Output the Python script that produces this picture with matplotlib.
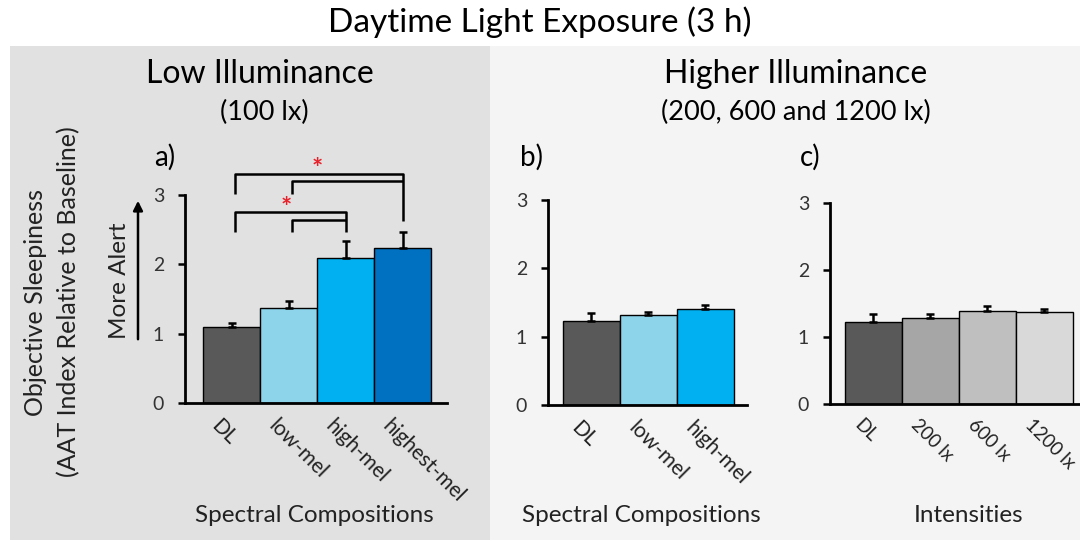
import matplotlib
matplotlib.use('Agg')
import matplotlib.pyplot as plt
import matplotlib.transforms as mtransforms
from matplotlib.patches import Rectangle

plt.rcParams['font.family'] = ['Lato', 'DejaVu Sans']

# panel a: low illuminance (100 lx)
labels_a = ['DL', 'low-mel', 'high-mel', 'highest-mel']
means_a = [1.10, 1.375, 2.09, 2.23]
errs_a = [0.05, 0.095, 0.25, 0.23]
colors_a = ['#595959', '#8DD3EA', '#00B0F0', '#0070C0']

# panel b: higher illuminance, spectral compositions
labels_b = ['DL', 'low-mel', 'high-mel']
means_b = [1.23, 1.31, 1.40]
errs_b = [0.11, 0.05, 0.06]
colors_b = ['#595959', '#8DD3EA', '#00B0F0']

# panel c: intensities
labels_c = ['DL', '200 lx', '600 lx', '1200 lx']
means_c = [1.22, 1.29, 1.39, 1.37]
errs_c = [0.13, 0.06, 0.07, 0.05]
colors_c = ['#595959', '#A6A6A6', '#BFBFBF', '#D9D9D9']

W, H = 1080, 540
fig = plt.figure(figsize=(10.8, 5.4), dpi=100)
fig.patch.set_facecolor('white')

def fx(px):
    return px / W

def fy(py):
    return 1 - py / H

# background panels
fig.add_artist(Rectangle((fx(10), 0), fx(480), fy(46), transform=fig.transFigure,
                         facecolor='#E1E1E1', edgecolor='none', zorder=0))
fig.add_artist(Rectangle((fx(490), 0), fx(590), fy(46), transform=fig.transFigure,
                         facecolor='#F4F4F4', edgecolor='none', zorder=0))

fig.text(0.5, fy(22), 'Daytime Light Exposure (3 h)', ha='center', va='center', fontsize=24)
fig.text(fx(260), fy(74), 'Low Illuminance', ha='center', va='center', fontsize=23)
fig.text(fx(264), fy(112), '(100 lx)', ha='center', va='center', fontsize=19.5)
fig.text(fx(796), fy(74), 'Higher Illuminance', ha='center', va='center', fontsize=23)
fig.text(fx(796), fy(112), '(200, 600 and 1200 lx)', ha='center', va='center', fontsize=19.5)


def make_panel(left, right, y0, y3, xlim, labels, means, errs, colors, xlabel, xlabel_x,
               letter, letter_x, tick_fs=15):
    ax = fig.add_axes([fx(left), fy(y0), fx(right - left), (y0 - y3) / H])
    ax.set_facecolor('none')
    x = list(range(len(labels)))
    ax.bar(x, means, width=1.0, color=colors, edgecolor='black', linewidth=1.0, zorder=2)
    ax.errorbar(x, means, yerr=[[0] * len(errs), errs], fmt='none', ecolor='black',
                elinewidth=1.8, capsize=3, capthick=1.8, zorder=3)
    ax.set_ylim(0, 3)
    ax.set_xlim(*xlim)
    ax.set_yticks([0, 1, 2, 3])
    ax.set_xticks(x)
    ax.set_xticklabels(labels, rotation=-45, ha='left', va='top', rotation_mode='anchor',
                       fontsize=tick_fs, color='#222222')
    ax.tick_params(axis='x', length=0, pad=9)
    ax.tick_params(axis='y', direction='out', length=5, width=1.8, labelsize=14,
                   colors='black', labelcolor='#333333', pad=10)
    offset = mtransforms.ScaledTranslation(-10 / 100, 0, fig.dpi_scale_trans)
    for lab in ax.get_xticklabels():
        lab.set_transform(lab.get_transform() + offset)
    for s in ['top', 'right']:
        ax.spines[s].set_visible(False)
    for s in ['left', 'bottom']:
        ax.spines[s].set_linewidth(2)
    fig.text(fx(xlabel_x), fy(515), xlabel, ha='center', va='center', fontsize=17.5,
             color='#222222')
    fig.text(fx(letter_x), fy(157), letter, ha='center', va='center', fontsize=20)
    return ax


ax_a = make_panel(185, 447, 403, 195, (-0.82, 3.78), labels_a, means_a, errs_a, colors_a,
                  'Spectral Compositions', 314, 'a)', 165)
ax_b = make_panel(548, 747, 405, 200, (-0.76, 2.73), labels_b, means_b, errs_b, colors_b,
                  'Spectral Compositions', 641, 'b)', 531)
ax_c = make_panel(830, 1090, 404, 203, (-0.76, 3.80), labels_c, means_c, errs_c, colors_c,
                  'Intensities', 969, 'c)', 810, tick_fs=13.5)

# significance brackets in panel a
lw = 1.8
kw = dict(color='black', lw=lw, clip_on=False, solid_capstyle='butt')
# DL & low-mel vs highest-mel
ax_a.plot([0.05, 0.05, 3.0, 3.0], [3.02, 3.30, 3.30, 2.62], **kw)
ax_a.plot([1.05, 1.05, 3.0], [3.02, 3.20, 3.20], **kw)
ax_a.text(1.5, 3.37, '*', color='#E8202A', ha='center', va='center', fontsize=19,
          fontweight='bold', clip_on=False)
# DL & low-mel vs high-mel
ax_a.plot([0.05, 0.05, 2.0, 2.0], [2.47, 2.75, 2.75, 2.46], **kw)
ax_a.plot([1.05, 1.05, 2.0], [2.47, 2.64, 2.64], **kw)
ax_a.text(0.95, 2.81, '*', color='#E8202A', ha='center', va='center', fontsize=19,
          fontweight='bold', clip_on=False)

# y-axis labels and "More Alert" arrow
fig.text(fx(36), fy(302), 'Objective Sleepiness', rotation=90, ha='center', va='center',
         fontsize=18, color='#222222')
fig.text(fx(69), fy(302), '(AAT Index Relative to Baseline)', rotation=90, ha='center',
         va='center', fontsize=18, color='#222222')
fig.text(fx(119), fy(281), 'More Alert', rotation=90, ha='center', va='center',
         fontsize=17.5, color='#222222')
fig.add_artist(matplotlib.patches.FancyArrowPatch((fx(138), fy(342)), (fx(138), fy(198)),
               transform=fig.transFigure, arrowstyle='-|>', mutation_scale=14,
               color='black', lw=1.8))

fig.savefig('out.png', dpi=100)
